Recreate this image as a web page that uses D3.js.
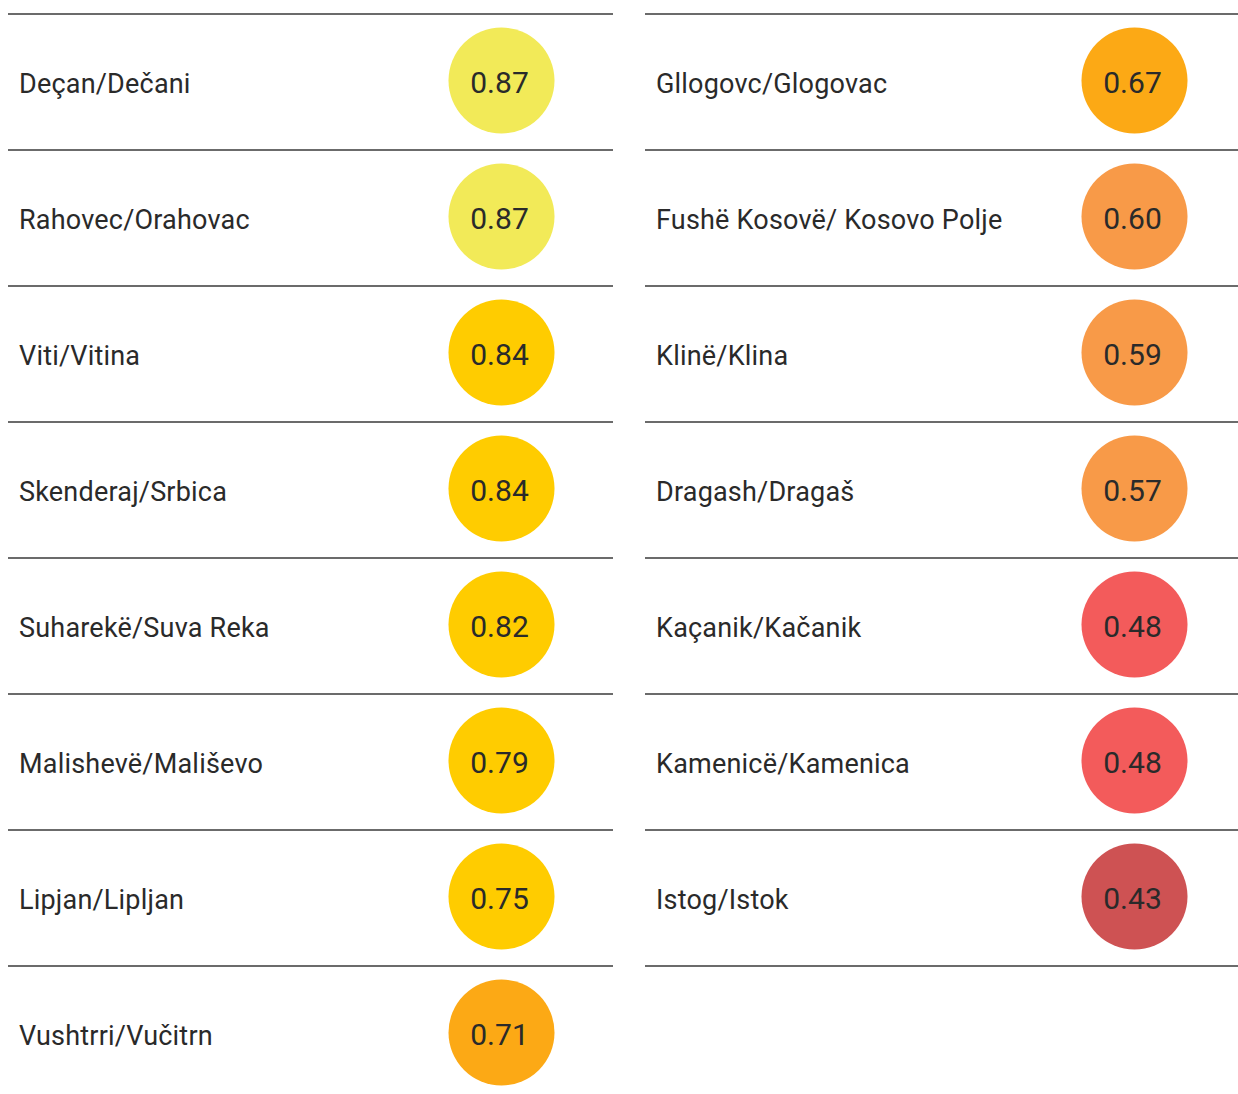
<!DOCTYPE html>
<html>
<head>
<meta charset="utf-8">
<script src="https://cdn.jsdelivr.net/npm/d3@7"></script>
<style>
  body { margin: 0; background: #fff; }
  svg { display: block; }
  text { font-family: Roboto, "Noto Sans", sans-serif; fill: #2a2a2a; font-weight: 400; }
</style>
</head>
<body>
<div id="chart-area"></div>
<script>
const leftNames = ["Deçan/Dečani", "Rahovec/Orahovac", "Viti/Vitina", "Skenderaj/Srbica",
                   "Suharekë/Suva Reka", "Malishevë/Mališevo", "Lipjan/Lipljan", "Vushtrri/Vučitrn"];
const leftValues = [0.87, 0.87, 0.84, 0.84, 0.82, 0.79, 0.75, 0.71];

const rightNames = ["Gllogovc/Glogovac", "Fushë Kosovë/ Kosovo Polje", "Klinë/Klina", "Dragash/Dragaš",
                    "Kaçanik/Kačanik", "Kamenicë/Kamenica", "Istog/Istok"];
const rightValues = [0.67, 0.60, 0.59, 0.57, 0.48, 0.48, 0.43];

const width = 1238, height = 1094;

var svg = d3.select("#chart-area").append("svg")
    .attr("width", width)
    .attr("height", height);

// row positions
var yScale = d3.scaleBand()
    .domain(d3.range(8))
    .range([14, 14 + 8 * 136]);

var color = d3.scaleThreshold()
    .domain([0.45, 0.5, 0.65, 0.72, 0.85])
    .range(["#ce5253", "#f35b5b", "#f89a48", "#fca915", "#ffcc00", "#f2ea58"]);

const columns = [
  {names: leftNames, values: leftValues, x0: 8, x1: 613, cx: 501.5, lastLine: false},
  {names: rightNames, values: rightValues, x0: 645, x1: 1238, cx: 1134.5, lastLine: true}
];

columns.forEach(function(col){
  var g = svg.append("g");
  var data = col.names.map((n, i) => ({name: n, value: col.values[i], i: i}));
  var nLines = col.lastLine ? data.length + 1 : data.length;

  g.selectAll("line")
   .data(d3.range(nLines))
   .enter()
   .append("line")
   .attr("x1", col.x0)
   .attr("x2", col.x1)
   .attr("y1", (d) => yScale(d))
   .attr("y2", (d) => yScale(d))
   .attr("stroke", "#3a3a3a")
   .attr("stroke-width", 1.5);

  var row = g.selectAll("g.row")
   .data(data)
   .enter()
   .append("g")
   .attr("class", "row")
   .attr("transform", (d) => `translate(0,${yScale(d.i)})`);

  row.append("text")
   .attr("x", col.x0 + 11)
   .attr("y", 69.5)
   .attr("dominant-baseline", "central")
   .attr("font-size", 27)
   .attr("letter-spacing", 0.2)
   .text((d) => d.name);

  row.append("circle")
   .attr("cx", col.cx)
   .attr("cy", 66.5)
   .attr("r", 53)
   .attr("fill", (d) => color(d.value));

  row.append("text")
   .attr("x", col.cx - 2)
   .attr("y", 68.5)
   .attr("text-anchor", "middle")
   .attr("dominant-baseline", "central")
   .attr("font-size", 30)
   .text((d) => d3.format(".2f")(d.value));
});
</script>
</body>
</html>
